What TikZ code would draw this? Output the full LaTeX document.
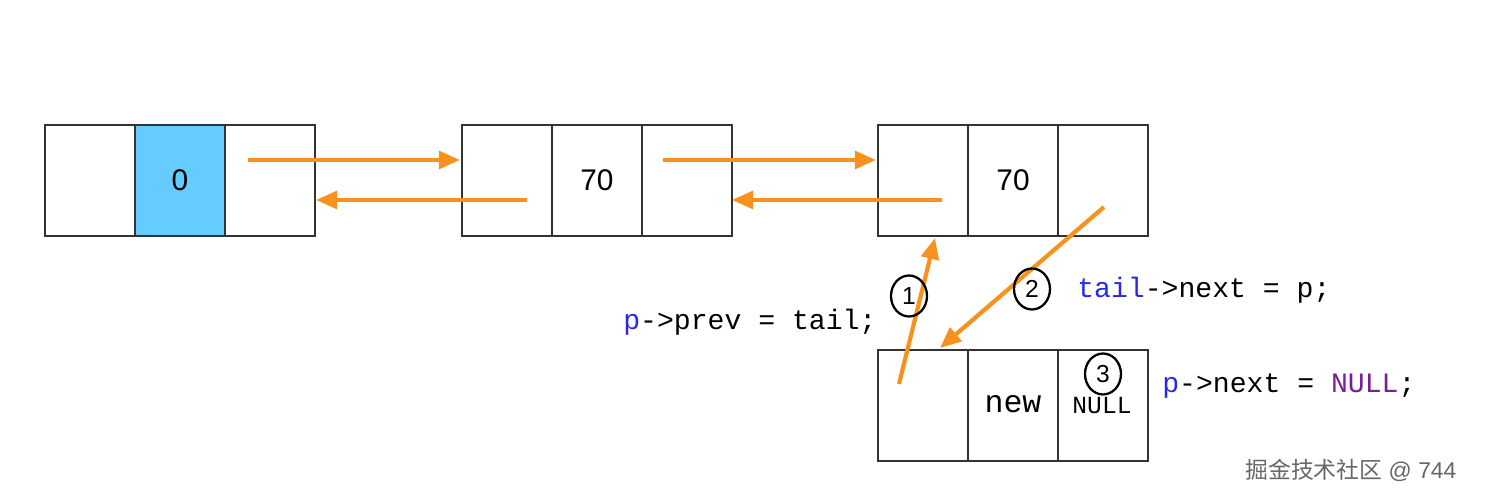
\documentclass[tikz,border=0pt]{standalone}
\usepackage{fontspec}
\setmainfont{Liberation Sans}
\setmonofont{Liberation Mono}
\newfontfamily\cjk{Noto Sans CJK SC}
\usetikzlibrary{arrows.meta,shapes.geometric}
\definecolor{cellblue}{RGB}{102,204,255}
\definecolor{arr}{RGB}{247,146,30}
\definecolor{kwblue}{RGB}{40,40,230}
\definecolor{kwpurple}{RGB}{120,30,150}
\begin{document}
\begin{tikzpicture}[x=0.02cm,y=-0.02cm,
  cell/.style={draw=black!80,line width=1pt,minimum width=1.8cm,minimum height=2.22cm,inner sep=0pt,font=\fontsize{17}{17}\selectfont},
  link/.style={draw=arr,line width=2.4pt,-{Triangle[length=12pt,width=10pt]}},
  num/.style={draw=black,line width=1.3pt,ellipse,minimum width=0.72cm,minimum height=0.82cm,inner sep=0pt,font=\fontsize{14}{14}\selectfont},
  code/.style={anchor=west,inner sep=0pt,font=\ttfamily\fontsize{16}{16}\selectfont}]
\useasboundingbox (0,0) rectangle (1489,502);
\foreach \n/\x in {a/45,b/462,c/878}{
  \node[cell] (\n1) at (\x+45,180.5) {};
  \node[cell] (\n2) at (\x+135,180.5) {};
  \node[cell] (\n3) at (\x+225,180.5) {};
}
\node[cell,fill=cellblue] at (a2) {0};
\node[font=\fontsize{17}{17}\selectfont] at (b2) {70};
\node[font=\fontsize{17}{17}\selectfont] at (c2) {70};
\node[cell] (d1) at (923,405.5) {};
\node[cell] (d2) at (1013,405.5) {};
\node[cell] (d3) at (1103,405.5) {};
\node[font=\ttfamily\fontsize{18}{18}\selectfont] at (1013,404) {new};
\node[font=\ttfamily\fontsize{14}{14}\selectfont] at (1102,406) {NULL};
\coordinate (s1) at (248,160); \coordinate (e1) at (460,160);
\coordinate (s2) at (527,200); \coordinate (e2) at (316,200);
\coordinate (s3) at (663,160); \coordinate (e3) at (876,160);
\coordinate (s4) at (942,200); \coordinate (e4) at (732,200);
\coordinate (s5) at (899,384); \coordinate (e5) at (935,238);
\coordinate (s6) at (1104,207); \coordinate (e6) at (940,348);
\foreach \i in {1,...,6} \draw[link] (s\i) -- (e\i);
\node[num] (n1) at (909,296) {1};
\node[num] (n2) at (1032,289) {2};
\node[num] (n3) at (1103,374) {3};
\node[code] (t1) at (623,322) {\textcolor{kwblue}{p}->prev = tail;};
\node[code] (t2) at (1077,290) {\textcolor{kwblue}{tail}->next = p;};
\node[code] (t3) at (1162,386) {\textcolor{kwblue}{p}->next = \textcolor{kwpurple}{NULL};};
\node[anchor=west,text=black!60,inner sep=0pt,font=\fontsize{13}{13}\selectfont] (w) at (1245,470) {{\cjk 掘金技术社区} @ 744};
\end{tikzpicture}
\end{document}
